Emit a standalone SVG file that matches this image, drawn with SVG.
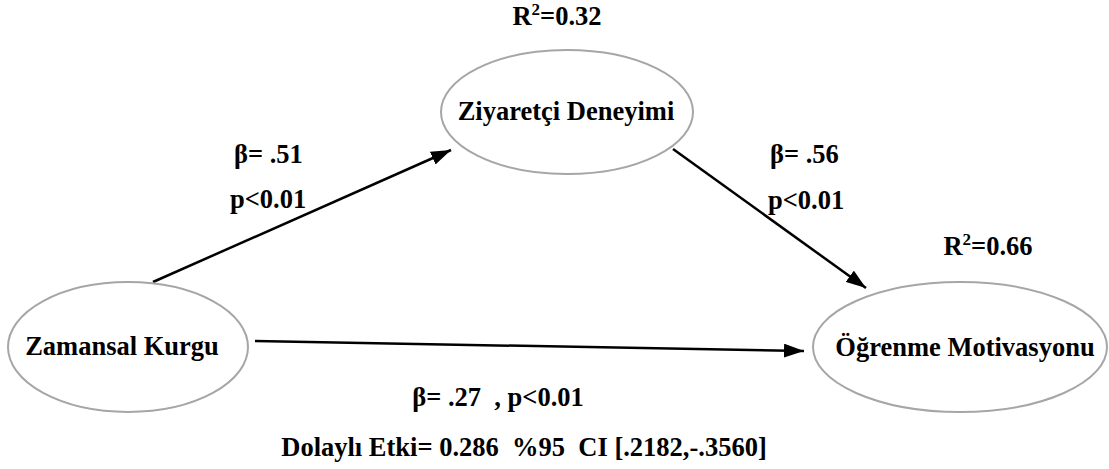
<svg xmlns="http://www.w3.org/2000/svg" width="1109" height="469" viewBox="0 0 1109 469">
<style>
text{font-family:"Liberation Serif","Times New Roman",serif;font-weight:bold;font-size:26.5px;fill:#000;white-space:pre}
.node{fill:#fff;stroke:#a6a6a6;stroke-width:2}
.edge{stroke:#000;stroke-width:2.5;fill:none;marker-end:url(#ah)}
.sup{font-size:17px}
</style>
<defs>
<marker id="ah" viewBox="0 0 20 14" refX="20" refY="7" markerWidth="20" markerHeight="14" markerUnits="userSpaceOnUse" orient="auto">
<path d="M0,0 L20,7 L0,14 Z" fill="#000"/>
</marker>
</defs>
<rect width="1109" height="469" fill="#fff"/>
<g id="connectors">
<line class="edge" x1="153" y1="282" x2="451" y2="150"/>
<line class="edge" x1="673" y1="149" x2="866" y2="288"/>
<line class="edge" x1="255" y1="341" x2="804" y2="351"/>
</g>
<g id="node-ziyaretci">
<ellipse class="node" cx="567" cy="112" rx="126" ry="62"/>
<text x="566" y="120" text-anchor="middle">Ziyaretçi Deneyimi</text>
</g>
<g id="node-zamansal">
<ellipse class="node" cx="128" cy="347" rx="120" ry="65"/>
<text x="122" y="355" text-anchor="middle">Zamansal Kurgu</text>
</g>
<g id="node-ogrenme">
<ellipse class="node" cx="960" cy="347" rx="147" ry="65"/>
<text x="965" y="356" text-anchor="middle">Öğrenme Motivasyonu</text>
</g>
<g id="labels">
<text x="557" y="25" text-anchor="middle">R<tspan class="sup" dy="-10">2</tspan><tspan dy="10">=0.32</tspan></text>
<text x="988" y="255" text-anchor="middle">R<tspan class="sup" dy="-10">2</tspan><tspan dy="10">=0.66</tspan></text>
<text x="234" y="163">β= .51</text>
<text x="230" y="208">p&lt;0.01</text>
<text x="770" y="163">β= .56</text>
<text x="768" y="209">p&lt;0.01</text>
<text x="498" y="406" text-anchor="middle">β= .27  , p&lt;0.01</text>
<text x="524" y="456" text-anchor="middle">Dolaylı Etki= 0.286  %95  CI [.2182,-.3560]</text>
</g>
</svg>
